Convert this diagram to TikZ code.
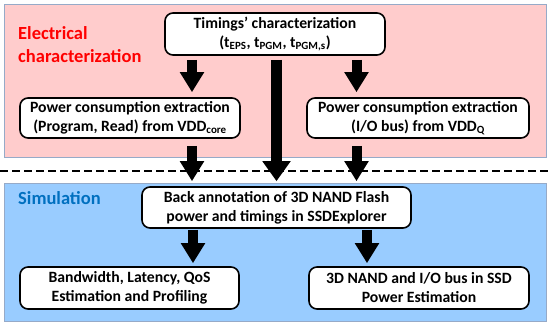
\documentclass[tikz,border=0pt]{standalone}
\usepackage{fontspec}
\setmainfont{Carlito}
\usepackage{tikz}
\usetikzlibrary{positioning, arrows.meta, calc}

\definecolor{pinkbg}{RGB}{255,204,204}
\definecolor{bluebg}{RGB}{153,204,255}
\definecolor{regline}{RGB}{150,170,200}
\definecolor{simblue}{RGB}{0,112,192}

\begin{document}
\begin{tikzpicture}[x=1pt, y=-1pt,
      box/.style={draw, line width=1.6pt, rounded corners=8pt, fill=white, align=center,
        inner sep=0pt, font=\fontsize{15.7}{19}\selectfont\bfseries},
      region/.style={draw=regline, line width=0.8pt},
      arr/.style={line width=10pt, -{Triangle[length=20pt, width=23pt]}},
      bigarr/.style={line width=11pt, -{Triangle[length=20pt, width=27pt]}},
      lbl/.style={anchor=west, align=left, inner sep=0pt, font=\fontsize{18.5}{23}\selectfont\bfseries}]
      \useasboundingbox (0,0) rectangle (550,326);
      \fill[white] (0,0) rectangle (550,326);
      % background areas
      \draw[region, fill=pinkbg] (4,4) rectangle (546,157);
      \draw[region, fill=bluebg] (4,183) rectangle (546,321);
      \draw[line width=1.5pt, dash pattern=on 8pt off 4pt] (0,171) -- (550,171);
      \node[lbl, text=red] (elec) at (18,45) {Electrical\\characterization};
      \node[lbl, text=simblue] (sim) at (18,198) {Simulation};
      % boxes
      \node[box, minimum width=220pt, minimum height=42pt] (tim) at (275,34)
        {Timings’ characterization\\(t\textsubscript{EPS}, t\textsubscript{PGM}, t\textsubscript{PGM,s})};
      \node[box, minimum width=220pt, minimum height=40pt] (lpw) at (130,118)
        {Power consumption extraction\\(Program, Read) from VDD\textsubscript{core}};
      \node[box, minimum width=222pt, minimum height=40pt] (rpw) at (418,118)
        {Power consumption extraction\\(I/O bus) from VDD\textsubscript{Q}};
      \node[box, minimum width=269pt, minimum height=41pt] (ban) at (276.5,207.5)
        {Back annotation of 3D NAND Flash\\power and timings in SSDExplorer};
      \node[box, minimum width=219pt, minimum height=42pt] (bwl) at (129.5,288)
        {Bandwidth, Latency, QoS\\Estimation and Profiling};
      \node[box, minimum width=220pt, minimum height=42pt] (pwe) at (419,288)
        {3D NAND and I/O bus in SSD\\Power Estimation};
      % arrow columns
      \coordinate (cl) at (192,0);
      \coordinate (cm) at (276.5,0);
      \coordinate (cr) at (356.5,0);
      \coordinate (dl) at (193,0);
      \coordinate (dr) at (367,0);
      \draw[arr, shorten <=4pt, shorten >=5pt] (cl |- tim.south) -- (cl |- lpw.north);
      \draw[arr, shorten <=4pt, shorten >=5pt] (cr |- tim.south) -- (cr |- rpw.north);
      \draw[bigarr, shorten <=4pt, shorten >=5pt] (cm |- tim.south) -- (cm |- ban.north);
      \draw[arr, shorten <=7pt, shorten >=5pt] (cl |- lpw.south) -- (cl |- ban.north);
      \draw[arr, shorten <=7pt, shorten >=5pt] (cr |- rpw.south) -- (cr |- ban.north);
      \draw[arr, shorten <=1pt, shorten >=3pt] (dl |- ban.south) -- (dl |- bwl.north);
      \draw[arr, shorten <=1pt, shorten >=3pt] (dr |- ban.south) -- (dr |- pwe.north);
    \end{tikzpicture}
\end{document}
